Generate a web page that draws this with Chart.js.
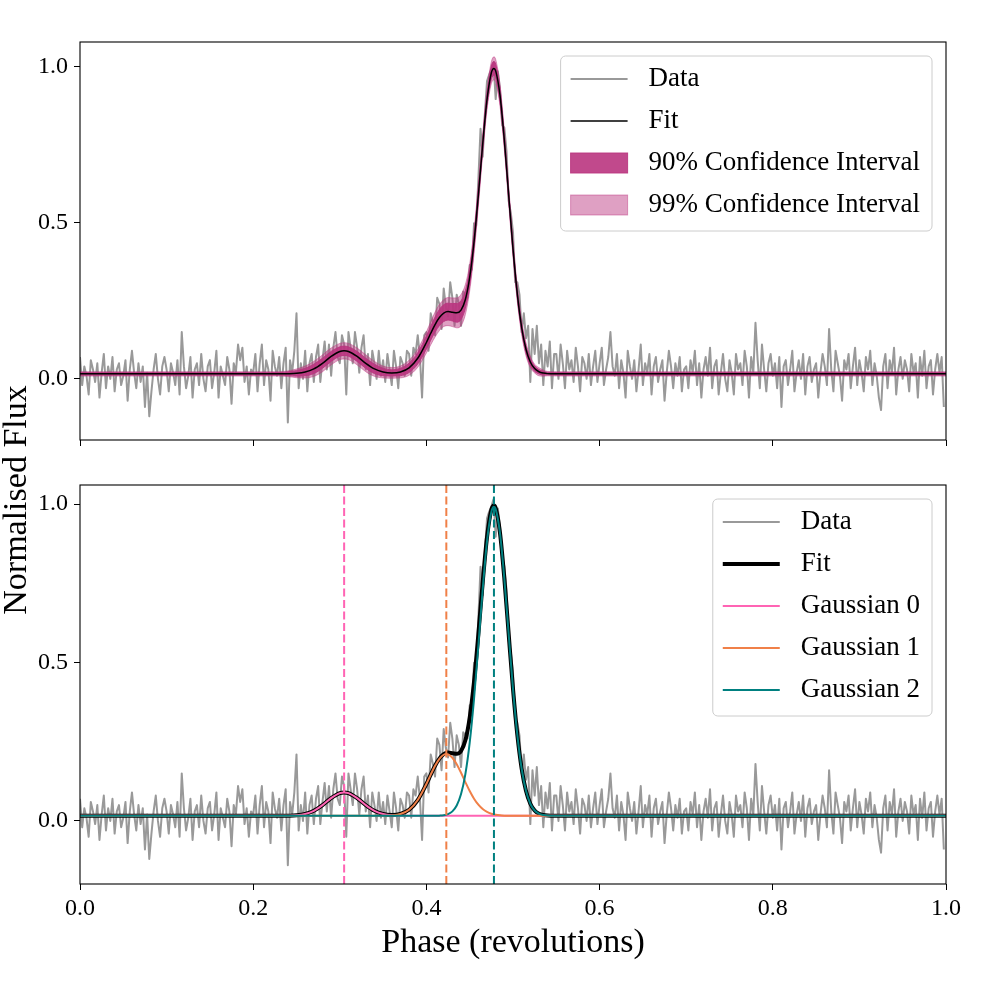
<!DOCTYPE html>
<html>
<head>
<meta charset="utf-8">
<title>Pulse profile fit</title>
<script src="https://cdn.jsdelivr.net/npm/chart.js@4.4.1/dist/chart.umd.min.js"></script>
<style>
  html, body { margin: 0; padding: 0; background: #fff; }
  #wrap { position: relative; width: 1000px; height: 1000px; }
  #wrap canvas { position: absolute; left: 0; top: 0; }
</style>
</head>
<body>
<div id="wrap">
  <canvas id="topPanel" width="1000" height="1000"></canvas>
  <canvas id="bottomPanel" width="1000" height="1000"></canvas>
</div>
<script>
// binned pulse profile, 400 phase bins, normalised flux
const nBins = 400;
const flux = [
  0.07, -0.02, 0.04, 0.01, -0.05, 0.06, 0.03, -0.01, 0.05, -0.06, 0.02, 0.08, -0.03, 0.04, 0.00, 0.07, -0.04, 0.03, 0.05, -0.02,
  0.01, 0.06, -0.07, 0.03, 0.09, 0.02, -0.03, 0.05, -0.01, 0.04, -0.09, 0.02, -0.12, -0.04, 0.03, 0.08, 0.00, -0.05, 0.04, 0.07,
  0.03, -0.04, 0.05, 0.02, -0.02, 0.06, -0.05, 0.15, 0.04, -0.03, 0.01, 0.07, -0.06, 0.03, 0.05, -0.02, 0.08, 0.00, -0.04, 0.04,
  0.06, -0.03, 0.02, 0.09, -0.06, 0.04, 0.01, -0.02, 0.07, 0.03, -0.08, 0.05, 0.02, 0.11, 0.06, 0.10, -0.01, 0.04, -0.05, 0.03,
  0.02, 0.08, -0.04, 0.05, 0.11, -0.02, 0.06, 0.03, -0.07, 0.09, 0.04, 0.01, 0.07, -0.03, 0.05, 0.10, -0.14, 0.06, 0.02, 0.09,
  0.21, -0.03, 0.05, 0.00, 0.09, -0.04, 0.05, 0.08, -0.01, 0.07, 0.11, -0.01, 0.06, 0.12, 0.03, 0.11, 0.01, 0.10, 0.15, 0.07,
  0.05, 0.14, 0.11, -0.05, 0.15, 0.10, 0.05, 0.15, 0.10, 0.02, 0.10, 0.14, 0.03, 0.08, -0.02, 0.09, 0.05, 0.00, 0.09, 0.01,
  0.06, -0.01, 0.08, 0.03, -0.02, 0.09, 0.04, -0.03, 0.07, 0.05, 0.01, 0.09, 0.08, 0.01, 0.10, 0.08, 0.14, 0.07, -0.06, 0.14,
  0.15, 0.09, 0.21, 0.18, 0.14, 0.26, 0.24, 0.16, 0.29, 0.23, 0.20, 0.31, 0.26, 0.17, 0.27, 0.24, 0.17, 0.28, 0.27, 0.26,
  0.365, 0.350, 0.499, 0.492, 0.639, 0.802, 0.712, 0.848, 0.955, 0.976, 0.992, 1.015, 0.897, 0.986, 0.929, 0.813, 0.805, 0.730, 0.570, 0.532,
  0.47, 0.31, 0.31, 0.27, 0.15, 0.21, 0.13, 0.17, -0.01, 0.16, 0.08, 0.17, 0.05, 0.11, -0.02, 0.09, 0.04, 0.12, -0.03, 0.08,
  0.08, 0.00, 0.11, 0.05, -0.03, 0.09, 0.03, 0.06, -0.01, 0.10, 0.04, -0.04, 0.07, 0.05, 0.00, 0.08, -0.02, 0.04, 0.09, -0.01,
  0.05, 0.10, -0.02, 0.03, 0.07, 0.15, 0.04, 0.01, 0.08, -0.03, 0.06, 0.02, -0.06, 0.09, 0.04, 0.00, 0.06, -0.04, 0.03, 0.11,
  -0.02, 0.05, 0.02, 0.08, -0.05, 0.04, 0.07, -0.01, 0.03, 0.06, -0.07, 0.02, 0.09, 0.04, -0.03, 0.05, 0.01, 0.07, -0.04, 0.03,
  0.04, -0.03, 0.06, 0.02, 0.09, -0.02, 0.05, -0.06, 0.03, 0.07, 0.01, 0.10, -0.03, 0.04, 0.06, -0.05, 0.02, 0.08, 0.00, -0.04,
  0.06, 0.02, -0.05, 0.08, 0.03, 0.05, -0.02, 0.09, 0.04, -0.06, 0.07, 0.02, 0.18, 0.06, -0.03, 0.11, 0.03, -0.04, 0.05, 0.08,
  0.01, 0.05, -0.03, 0.07, -0.09, 0.04, 0.06, -0.02, 0.03, 0.09, -0.04, 0.02, 0.06, 0.00, 0.08, -0.05, 0.04, 0.07, -0.01, 0.03,
  0.05, -0.06, 0.02, 0.08, 0.04, -0.02, 0.16, 0.03, -0.04, 0.09, 0.05, 0.01, -0.07, 0.06, 0.03, 0.08, -0.03, 0.04, 0.10, -0.02,
  0.06, 0.02, -0.04, 0.07, 0.03, 0.09, -0.02, 0.05, 0.01, -0.06, -0.10, 0.04, 0.08, -0.03, 0.06, 0.02, 0.10, -0.05, 0.03, 0.07,
  0.00, 0.06, 0.03, -0.04, 0.08, 0.02, 0.05, -0.06, 0.07, 0.01, 0.09, -0.03, 0.04, 0.06, -0.05, 0.03, 0.08, 0.02, 0.07, -0.09
];
const dataPhase = flux.map((_, i) => i / nBins);

// fitted model (sum of three gaussians + baseline), sampled where it changes
const fitPhase = [0, 0.2, 0.22, 0.23, 0.24, 0.25, 0.26, 0.27, 0.28, 0.29, 0.3, 0.305, 0.31, 0.32, 0.33, 0.34, 0.35, 0.36, 0.37, 0.38,
  0.39, 0.4, 0.405, 0.41, 0.415, 0.42, 0.425, 0.43, 0.435, 0.44, 0.445, 0.45, 0.455, 0.46, 0.465, 0.47, 0.475, 0.478, 0.48, 0.485,
  0.49, 0.495, 0.5, 0.505, 0.51, 0.515, 0.52, 0.525, 0.53, 0.535, 0.54, 0.55, 0.56, 0.6, 1];
const fitFlux = [0.016, 0.016, 0.016, 0.0161, 0.0164, 0.0177, 0.0219, 0.032, 0.0499, 0.0719, 0.0877, 0.09, 0.0877, 0.0719, 0.0499, 0.032, 0.0221, 0.0191, 0.0222, 0.0354,
  0.066, 0.1167, 0.1461, 0.1741, 0.1967, 0.2108, 0.2156, 0.2136, 0.2116, 0.2206, 0.2544, 0.3254, 0.4392, 0.5889, 0.7523, 0.8952, 0.9816, 0.9954, 0.9873, 0.9087,
  0.7651, 0.5898, 0.4169, 0.2716, 0.1647, 0.0949, 0.0542, 0.0329, 0.0228, 0.0185, 0.0168, 0.0161, 0.016, 0.016, 0.016];
// half widths of the confidence bands around the fit
const ci90Half = [0.004, 0.004, 0.004, 0.004, 0.006, 0.009, 0.012, 0.015, 0.016, 0.016, 0.015, 0.015, 0.015, 0.016, 0.016, 0.015, 0.012, 0.010, 0.012, 0.015,
  0.018, 0.021, 0.022, 0.024, 0.026, 0.027, 0.027, 0.028, 0.030, 0.030, 0.028, 0.026, 0.022, 0.020, 0.019, 0.019, 0.021, 0.022, 0.022, 0.021,
  0.018, 0.016, 0.015, 0.015, 0.013, 0.012, 0.010, 0.009, 0.007, 0.006, 0.004, 0.004, 0.004, 0.004, 0.004];
const ci99Half = [0.007, 0.007, 0.007, 0.007, 0.009, 0.014, 0.019, 0.024, 0.027, 0.027, 0.026, 0.026, 0.026, 0.027, 0.027, 0.024, 0.019, 0.017, 0.019, 0.024,
  0.029, 0.034, 0.037, 0.040, 0.042, 0.043, 0.045, 0.046, 0.048, 0.050, 0.048, 0.043, 0.038, 0.035, 0.032, 0.032, 0.035, 0.037, 0.037, 0.034,
  0.030, 0.027, 0.026, 0.024, 0.022, 0.021, 0.018, 0.014, 0.013, 0.010, 0.007, 0.007, 0.007, 0.007, 0.007];

// individual components (each includes the baseline)
const g0Phase = [0, 0.22, 0.23, 0.24, 0.25, 0.26, 0.27, 0.28, 0.29, 0.3, 0.305, 0.31, 0.32, 0.33, 0.34, 0.35, 0.36, 0.37, 0.38, 0.39, 1];
const g0Flux = [0.016, 0.016, 0.0161, 0.0164, 0.0177, 0.0219, 0.032, 0.0499, 0.0719, 0.0877, 0.09, 0.0877, 0.0719, 0.0499, 0.032, 0.0219, 0.0177, 0.0164, 0.0161, 0.016, 0.016];
const g1Phase = [0, 0.34, 0.35, 0.36, 0.37, 0.38, 0.39, 0.4, 0.405, 0.41, 0.415, 0.42, 0.423, 0.425, 0.43, 0.435, 0.44, 0.445, 0.45, 0.455,
  0.46, 0.465, 0.47, 0.475, 0.48, 0.485, 0.49, 0.495, 0.5, 0.51, 1];
const g1Flux = [0.016, 0.016, 0.0162, 0.0174, 0.0218, 0.0353, 0.066, 0.1167, 0.1461, 0.1739, 0.196, 0.2088, 0.211, 0.21, 0.1994, 0.1789, 0.1519, 0.1225, 0.0944, 0.0702,
  0.0512, 0.0375, 0.0283, 0.0226, 0.0194, 0.0176, 0.0167, 0.0163, 0.0161, 0.016, 0.016];
const g2Phase = [0, 0.4, 0.41, 0.415, 0.42, 0.425, 0.43, 0.435, 0.44, 0.445, 0.45, 0.455, 0.46, 0.465, 0.47, 0.475, 0.478, 0.48, 0.485, 0.49,
  0.495, 0.5, 0.505, 0.51, 0.515, 0.52, 0.525, 0.53, 0.535, 0.54, 0.55, 0.56, 1];
const g2Flux = [0.016, 0.016, 0.0162, 0.0167, 0.018, 0.0216, 0.0302, 0.0487, 0.0847, 0.1479, 0.247, 0.385, 0.5537, 0.7308, 0.8829, 0.975, 0.991, 0.9839, 0.9071, 0.7644,
  0.5895, 0.4168, 0.2716, 0.1647, 0.0949, 0.0542, 0.0329, 0.0228, 0.0185, 0.0168, 0.0161, 0.016, 0.016];
const gaussCentres = [0.305, 0.423, 0.478];

const xTicks = [0, 0.2, 0.4, 0.6, 0.8, 1.0];
const yTicks = [0, 0.5, 1.0];
const topYRange = [-0.196, 1.08];
const bottomYRange = [-0.199, 1.06];

const SERIF = '"Liberation Serif", "Times New Roman", serif';
Chart.defaults.font.family = SERIF;
Chart.defaults.color = '#000';

const colours = {
    data: '#999999',
    fit: '#000000',
    ci90: 'rgba(186, 53, 127, 0.9)',
    ci99: 'rgba(186, 53, 127, 0.47)',
    gauss: ['#ff64b4', '#f08048', '#008080']
};

function xy(xs, ys) {
    return xs.map((x, i) => ({ x: x, y: ys[i] }));
}

function curve(points, colour, width, extra) {
    return Object.assign({
        data: points,
        borderColor: colour,
        borderWidth: width,
        pointRadius: 0,
        fill: false,
        borderJoinStyle: 'round',
        cubicInterpolationMode: 'monotone'
    }, extra || {});
}

function xScale(showLabels, axisHeight) {
    const scale = {
        type: 'linear', min: 0, max: 1,
        afterBuildTicks: s => { s.ticks = xTicks.map(v => ({ value: v })); },
        afterFit: s => { s.height = axisHeight; },
        ticks: {
            font: { size: 24 }, padding: 4, maxRotation: 0, autoSkip: false,
            callback: v => showLabels ? v.toFixed(1) : ''
        },
        grid: { drawOnChartArea: false, drawTicks: true, tickLength: 6, color: '#000', lineWidth: 1 },
        border: { display: false }
    };
    if (showLabels) {
        scale.title = { display: true, text: 'Phase (revolutions)', font: { size: 34 }, padding: { top: 0, bottom: 37 } };
    }
    return scale;
}

function yScale(range) {
    return {
        type: 'linear', min: range[0], max: range[1],
        afterBuildTicks: s => { s.ticks = yTicks.map(v => ({ value: v })); },
        afterFit: s => { s.width = 80; },
        ticks: { font: { size: 24 }, padding: 6, callback: v => v.toFixed(1) },
        grid: { drawOnChartArea: false, drawTicks: true, tickLength: 6, color: '#000', lineWidth: 1 },
        border: { display: false }
    };
}

function drawLegend(chart, items) {
    const { ctx, chartArea } = chart;
    ctx.font = '27px ' + SERIF;
    const textW = Math.max(...items.map(it => ctx.measureText(it.label).width));
    const w = 10 + 57 + 21 + textW + 12;
    const h = 23 + 42 * (items.length - 1) + 26;
    const x0 = chartArea.right - 14 - w;
    const y0 = chartArea.top + 14;

    ctx.beginPath();
    ctx.roundRect(x0, y0, w, h, 5);
    ctx.fillStyle = 'rgba(255,255,255,0.8)';
    ctx.fill();
    ctx.strokeStyle = '#cccccc';
    ctx.lineWidth = 1;
    ctx.stroke();

    items.forEach((it, i) => {
        const y = y0 + 23 + 42 * i;
        if (it.patch) {
            ctx.fillStyle = it.patch;
            ctx.fillRect(x0 + 10, y - 10, 57, 20);
            ctx.strokeStyle = it.patch;
            ctx.lineWidth = 1;
            ctx.strokeRect(x0 + 10, y - 10, 57, 20);
        } else {
            ctx.beginPath();
            ctx.moveTo(x0 + 10, y);
            ctx.lineTo(x0 + 67, y);
            ctx.strokeStyle = it.line;
            ctx.lineWidth = it.width;
            ctx.stroke();
        }
        ctx.fillStyle = '#000';
        ctx.textAlign = 'left';
        ctx.textBaseline = 'middle';
        ctx.fillText(it.label, x0 + 88, y);
    });
}

// axes box, legend and shared y label
const framePlugin = {
    id: 'frame',
    afterDatasetsDraw(chart, args, opts) {
        const { ctx, chartArea: a } = chart;
        ctx.save();
        ctx.strokeStyle = '#000';
        ctx.lineWidth = 1.1;
        ctx.strokeRect(a.left, a.top, a.right - a.left, a.bottom - a.top);
        if (opts.legend) drawLegend(chart, opts.legend);
        if (opts.yLabel) {
            ctx.translate(25.5, 500);
            ctx.rotate(-Math.PI / 2);
            ctx.font = '34px ' + SERIF;
            ctx.fillStyle = '#000';
            ctx.textAlign = 'center';
            ctx.textBaseline = 'alphabetic';
            ctx.fillText(opts.yLabel, 0, 0);
        }
        ctx.restore();
    }
};

function withOrder(datasets) {
    // Chart.js paints lower "order" last, so later entries end up on top
    return datasets.map((d, i) => Object.assign(d, { order: 20 - i }));
}

const fitLo90 = fitFlux.map((v, i) => v - ci90Half[i]);
const fitHi90 = fitFlux.map((v, i) => v + ci90Half[i]);
const fitLo99 = fitFlux.map((v, i) => v - ci99Half[i]);
const fitHi99 = fitFlux.map((v, i) => v + ci99Half[i]);

new Chart(document.getElementById('topPanel'), {
    type: 'line',
    data: {
        datasets: withOrder([
            curve(xy(dataPhase, flux), colours.data, 2, { cubicInterpolationMode: 'default', tension: 0 }),
            curve(xy(fitPhase, fitLo99), colours.ci99, 1),
            curve(xy(fitPhase, fitHi99), colours.ci99, 1, { fill: '-1', backgroundColor: colours.ci99 }),
            curve(xy(fitPhase, fitLo90), colours.ci90, 1),
            curve(xy(fitPhase, fitHi90), colours.ci90, 1, { fill: '-1', backgroundColor: colours.ci90 }),
            curve(xy(fitPhase, fitFlux), colours.fit, 1.5)
        ])
    },
    options: {
        responsive: false,
        animation: false,
        devicePixelRatio: 1,
        layout: { padding: { top: 42, right: 54, left: 0, bottom: 0 } },
        scales: { x: xScale(false, 560), y: yScale(topYRange) },
        plugins: {
            legend: { display: false },
            tooltip: { enabled: false },
            frame: {
                yLabel: 'Normalised Flux',
                legend: [
                    { label: 'Data', line: colours.data, width: 2 },
                    { label: 'Fit', line: colours.fit, width: 1.5 },
                    { label: '90% Confidence Interval', patch: colours.ci90 },
                    { label: '99% Confidence Interval', patch: colours.ci99 }
                ]
            }
        }
    },
    plugins: [framePlugin]
});

const centreLines = gaussCentres.map((c, i) => curve(
    [{ x: c, y: bottomYRange[0] }, { x: c, y: bottomYRange[1] }],
    colours.gauss[i], 2, { borderDash: [8, 3.5], cubicInterpolationMode: 'default' }
));

new Chart(document.getElementById('bottomPanel'), {
    type: 'line',
    data: {
        datasets: withOrder([
            curve(xy(dataPhase, flux), colours.data, 2, { cubicInterpolationMode: 'default', tension: 0 }),
            curve(xy(fitPhase, fitFlux), colours.fit, 4),
            curve(xy(g0Phase, g0Flux), colours.gauss[0], 2),
            curve(xy(g1Phase, g1Flux), colours.gauss[1], 2),
            curve(xy(g2Phase, g2Flux), colours.gauss[2], 2)
        ].concat(centreLines))
    },
    options: {
        responsive: false,
        animation: false,
        devicePixelRatio: 1,
        layout: { padding: { top: 485, right: 54, left: 0, bottom: 0 } },
        scales: { x: xScale(true, 116), y: yScale(bottomYRange) },
        plugins: {
            legend: { display: false },
            tooltip: { enabled: false },
            frame: {
                legend: [
                    { label: 'Data', line: colours.data, width: 2 },
                    { label: 'Fit', line: colours.fit, width: 4 },
                    { label: 'Gaussian 0', line: colours.gauss[0], width: 2 },
                    { label: 'Gaussian 1', line: colours.gauss[1], width: 2 },
                    { label: 'Gaussian 2', line: colours.gauss[2], width: 2 }
                ]
            }
        }
    },
    plugins: [framePlugin]
});
</script>
</body>
</html>
